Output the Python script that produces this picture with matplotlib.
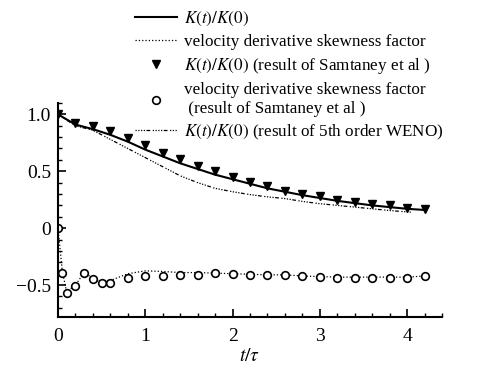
import numpy as np
import matplotlib
matplotlib.use("Agg")
import matplotlib.pyplot as plt
from matplotlib.ticker import MultipleLocator, FixedLocator, FixedFormatter

plt.rcParams["font.family"] = ["Liberation Serif", "DejaVu Serif"]
plt.rcParams["mathtext.fontset"] = "stix"

# ====== data ======
t_line = [0.0, 0.2, 0.4, 0.6, 0.8, 1.0, 1.2, 1.4, 1.6, 1.8, 2.0,
          2.2, 2.4, 2.6, 2.8, 3.0, 3.2, 3.4, 3.6, 3.8, 4.0, 4.2]
k_present = [1.0, 0.91, 0.87, 0.82, 0.76, 0.69, 0.63, 0.57, 0.52, 0.47, 0.43,
             0.39, 0.35, 0.32, 0.29, 0.265, 0.24, 0.22, 0.20, 0.185, 0.17, 0.16]

t_tri = t_line
k_samtaney = [1.0, 0.92, 0.90, 0.85, 0.79, 0.73, 0.66, 0.61, 0.55, 0.50, 0.45,
              0.41, 0.37, 0.33, 0.30, 0.28, 0.25, 0.23, 0.21, 0.20, 0.18, 0.165]

t_weno = [0.0, 0.2, 0.4, 0.6, 0.8, 1.0, 1.2, 1.4, 1.6, 1.8, 2.0,
          2.2, 2.4, 2.6, 2.8, 3.0, 3.2, 3.4, 3.6, 3.8, 4.05]
k_weno = [1.0, 0.90, 0.86, 0.78, 0.70, 0.62, 0.54, 0.46, 0.40, 0.35, 0.32,
          0.295, 0.275, 0.26, 0.235, 0.215, 0.20, 0.185, 0.17, 0.155, 0.14]

t_skew = [0.0, 0.02, 0.05, 0.1, 0.2, 0.3, 0.4, 0.5, 0.6, 0.8, 1.0, 1.2, 1.4,
          1.6, 1.8, 2.0, 2.2, 2.4, 2.6, 2.8, 3.0, 3.2, 3.4, 3.6, 3.8, 4.0, 4.2]
skew_present = [0.0, -0.15, -0.38, -0.56, -0.50, -0.39, -0.44, -0.48, -0.46, -0.40,
                -0.375, -0.38, -0.39, -0.39, -0.395, -0.40, -0.405, -0.41, -0.41,
                -0.42, -0.425, -0.43, -0.43, -0.43, -0.43, -0.43, -0.42]

t_circ = [0.0, 0.05, 0.1, 0.2, 0.3, 0.4, 0.5, 0.6, 0.8, 1.0, 1.2, 1.4, 1.6, 1.8,
          2.0, 2.2, 2.4, 2.6, 2.8, 3.0, 3.2, 3.4, 3.6, 3.8, 4.0, 4.2]
skew_samtaney = [0.0, -0.39, -0.57, -0.51, -0.39, -0.45, -0.48, -0.48, -0.44, -0.42,
                 -0.42, -0.41, -0.41, -0.39, -0.40, -0.41, -0.41, -0.41, -0.42, -0.43,
                 -0.44, -0.44, -0.44, -0.44, -0.44, -0.42]

y_ticks = [1.0, 0.5, 0.0, -0.5]
y_labels = ["1.0", "0.5", "0", "\u22120.5"]
x_ticks = [0, 1, 2, 3, 4]

# ====== plot ======
fig = plt.figure(figsize=(4.79, 3.69), dpi=100)
ax = fig.add_axes([0.121, 0.141, 0.802, 0.580])

l1, = ax.plot(t_line, k_present, "-", color="black", lw=1.5)
l2, = ax.plot(t_skew, skew_present, ":", color="black", lw=0.9)
m1, = ax.plot(t_tri, k_samtaney, "v", color="black", ms=6, ls="none")
m2, = ax.plot(t_circ, skew_samtaney, "o", mfc="white", mec="black", mew=1.2,
              ms=5.5, ls="none")
l3, = ax.plot(t_weno, k_weno, color="black", lw=0.9,
              ls=(0, (1, 1.2, 1, 1.2, 1, 1.2, 1, 1.2, 3, 2)))

ax.set_xlim(0, 4.4)
ax.set_ylim(-0.78, 1.1)
for s in ["top", "right"]:
    ax.spines[s].set_visible(False)
ax.spines["left"].set_linewidth(1.5)
ax.spines["bottom"].set_linewidth(1.5)

ax.xaxis.set_major_locator(FixedLocator(x_ticks))
ax.xaxis.set_minor_locator(MultipleLocator(0.2))
ax.yaxis.set_major_locator(FixedLocator(y_ticks))
ax.yaxis.set_major_formatter(FixedFormatter(y_labels))
ax.yaxis.set_minor_locator(MultipleLocator(0.1))
ax.tick_params(which="major", direction="in", length=6, width=1.2, labelsize=14)
ax.tick_params(axis="y", which="major", pad=5)
ax.tick_params(axis="x", which="major", pad=8)
ax.tick_params(which="minor", direction="in", length=3, width=1.0)
ax.set_xlabel(r"$t/\tau$", fontsize=14, labelpad=2)

fig.legend([l1, l2, m1, m2, l3],
           [r"$K(t)/K(0)$",
            "velocity derivative skewness factor",
            r"$K(t)/K(0)$" + " (result of Samtaney et al )",
            "velocity derivative skewness factor\n (result of Samtaney et al )",
            r"$K(t)/K(0)$" + " (result of 5th order WENO)"],
           loc="upper left", bbox_to_anchor=(0.26, 1.0), frameon=False,
           fontsize=12.3, handlelength=2.5, handletextpad=0.4,
           labelspacing=0.35, numpoints=1, borderaxespad=0.2)

fig.savefig("out.png", dpi=100)
